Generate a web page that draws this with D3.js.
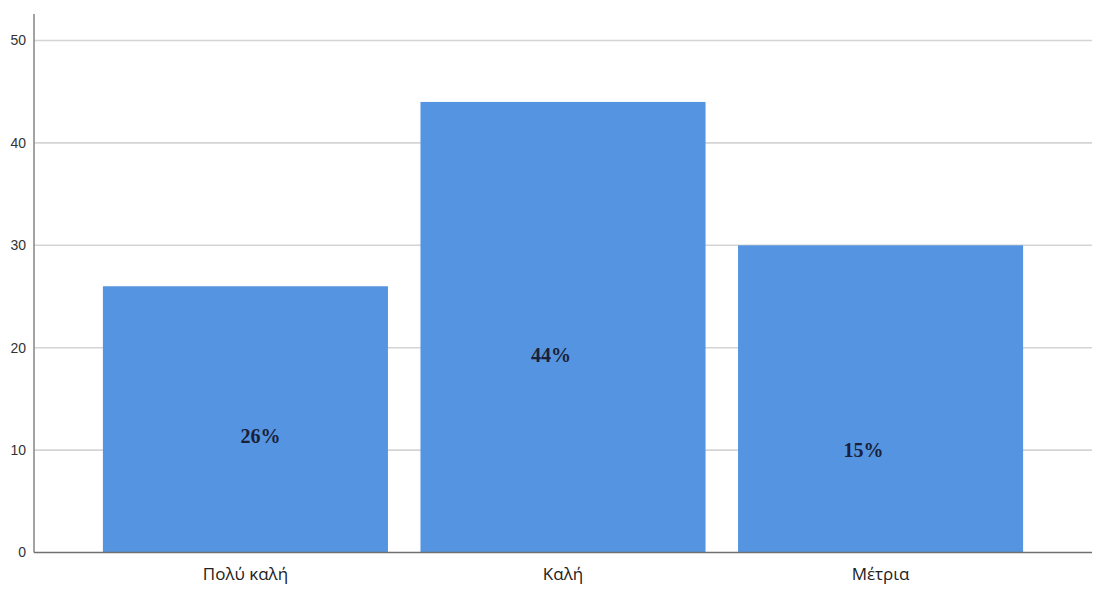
<!DOCTYPE html>
<html>
<head>
<meta charset="utf-8">
<script src="https://cdn.jsdelivr.net/npm/d3@7"></script>
<style>
  html, body { margin: 0; padding: 0; background: #ffffff; }
  svg { display: block; }
</style>
</head>
<body>
<svg id="chart" width="1096" height="594"></svg>
<script>
// Rating categories and their counts
const categories = ["Πολύ καλή", "Καλή", "Μέτρια"];
const counts = [26, 44, 30];
// Percentage labels printed inside the bars
const percentLabels = ["26%", "44%", "15%"];
// Y axis ticks
const yTicks = [0, 10, 20, 30, 40, 50];

const svg = d3.select("#chart");
const plotLeft = 34, plotRight = 1092, plotTop = 14, plotBottom = 552.5;

const x = d3.scaleBand()
  .domain(categories)
  .range([plotLeft, plotRight])
  .paddingInner(0.1024)
  .paddingOuter(0.217);

const y = d3.scaleLinear()
  .domain([0, 50])
  .range([plotBottom, 40.5]);

// Horizontal gridlines
svg.append("g")
  .selectAll("line")
  .data(yTicks.filter(t => t > 0))
  .join("line")
  .attr("x1", plotLeft)
  .attr("x2", plotRight)
  .attr("y1", d => y(d))
  .attr("y2", d => y(d))
  .attr("stroke", "#d4d4d4")
  .attr("stroke-width", 1.6);

// Bars
svg.append("g")
  .selectAll("rect")
  .data(categories)
  .join("rect")
  .attr("x", d => x(d))
  .attr("width", x.bandwidth())
  .attr("y", (d, i) => y(counts[i]))
  .attr("height", (d, i) => y(0) - y(counts[i]))
  .attr("fill", "#5594e1");

// Y axis
const yAxis = d3.axisLeft(y)
  .tickValues(yTicks)
  .tickSize(0)
  .tickPadding(8);
const gy = svg.append("g")
  .attr("transform", `translate(${plotLeft},0)`)
  .call(yAxis);
gy.select(".domain").remove();
gy.selectAll("text")
  .attr("font-family", "Liberation Sans, Arial, sans-serif")
  .attr("font-size", 14)
  .attr("fill", "#333333");
svg.append("line")
  .attr("x1", plotLeft).attr("x2", plotLeft)
  .attr("y1", plotTop).attr("y2", plotBottom)
  .attr("stroke", "#8c8c8c")
  .attr("stroke-width", 1.6);

// X axis
const xAxis = d3.axisBottom(x).tickSize(0).tickPadding(15);
const gx = svg.append("g")
  .attr("transform", `translate(0,${plotBottom})`)
  .call(xAxis);
gx.select(".domain").remove();
gx.selectAll("text")
  .attr("font-family", "Open Sans, Liberation Sans, sans-serif")
  .attr("font-size", 17)
  .attr("fill", "#222222");
svg.append("line")
  .attr("x1", plotLeft).attr("x2", plotRight)
  .attr("y1", plotBottom).attr("y2", plotBottom)
  .attr("stroke", "#707070")
  .attr("stroke-width", 1.4);

// Hand-placed label positions: pixel nudges from the bar centre
const labelNudge = [[15, 17], [-12, 28], [-17, 51]];
svg.append("g")
  .selectAll("text")
  .data(categories)
  .join("text")
  .attr("x", (d, i) => x(d) + x.bandwidth() / 2 + labelNudge[i][0])
  .attr("y", (d, i) => (y(counts[i]) + y(0)) / 2 + labelNudge[i][1])
  .attr("text-anchor", "middle")
  .attr("dominant-baseline", "central")
  .attr("font-family", "Liberation Serif, Times New Roman, serif")
  .attr("font-weight", "bold")
  .attr("font-size", 20)
  .attr("fill", "#1a1f3a")
  .text((d, i) => percentLabels[i]);
</script>
</body>
</html>
